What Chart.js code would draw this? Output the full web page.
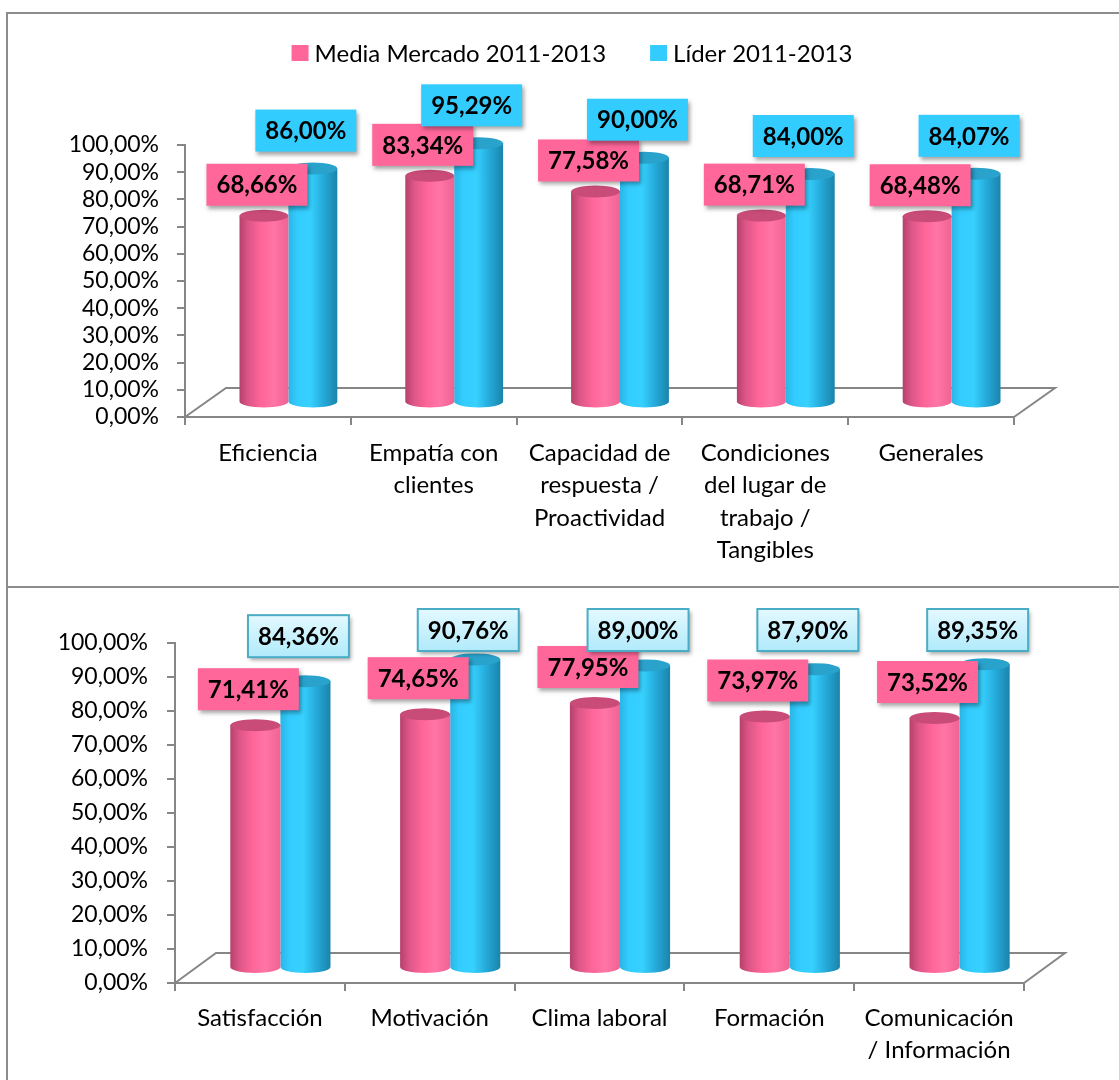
<!DOCTYPE html>
<html>
<head>
<meta charset="utf-8">
<title>Media Mercado / Líder 2011-2013</title>
<script src="https://cdn.jsdelivr.net/npm/chart.js@4"></script>
<style>
  body { margin: 0; background: #fff; }
  .hoja { position: relative; width: 1119px; height: 1080px; overflow: hidden; }
  .hoja canvas { position: absolute; left: 0; }
  .marco { position: absolute; border: 2px solid #8c8c8c; border-right: none; }
</style>
</head>
<body>
<div class="hoja">
  <div class="marco" style="left:6px; top:12px; width:1200px; height:572px;"></div>
  <div class="marco" style="left:6px; top:588px; width:1200px; height:600px; border-top:none;"></div>
  <canvas id="clientes" width="1119" height="587" style="top:0"></canvas>
  <canvas id="empleados" width="1119" height="493" style="top:587px"></canvas>
</div>
<script>
const series = ['Media Mercado 2011-2013', 'Líder 2011-2013']

const categoriasClientes = [
  'Eficiencia',
  ['Empatía con', 'clientes'],
  ['Capacidad de', 'respuesta /', 'Proactividad'],
  ['Condiciones', 'del lugar de', 'trabajo /', 'Tangibles'],
  'Generales'
]
const mediaClientes = [68.66, 83.34, 77.58, 68.71, 68.48]
const liderClientes = [86.00, 95.29, 90.00, 84.00, 84.07]

const categoriasEmpleados = [
  'Satisfacción',
  'Motivación',
  'Clima laboral',
  'Formación',
  ['Comunicación', '/ Información']
]
const mediaEmpleados = [71.41, 74.65, 77.95, 73.97, 73.52]
const liderEmpleados = [84.36, 90.76, 89.00, 87.90, 89.35]

const fuente = 'Lato, "Open Sans", sans-serif'
const gris = '#868686'

// degradados de los cilindros (rosa y azul)
const tonos = [
  { cuerpo: ['#b5416b', '#dd5687', '#ff6699', '#ff75a6', '#f06394'], tapa: '#c94b78', etiqueta: '#ff6699' },
  { cuerpo: ['#2ab6e4', '#33ccff', '#36d1ff', '#26acdc', '#1a84aa'], tapa: '#29a2cc', etiqueta: '#33ccff' }
]

function formato(v) {
  return Number(v).toFixed(2).replace('.', ',') + '%'
}

function cilindro(ctx, izq, der, arriba, base, ry, tono) {
  const cx = (izq + der) / 2
  const rx = (der - izq) / 2
  const g = ctx.createLinearGradient(izq, 0, der, 0)
  const stops = [0, 0.18, 0.45, 0.7, 1]
  tono.cuerpo.forEach((c, i) => g.addColorStop(stops[i], c))
  ctx.beginPath()
  ctx.moveTo(izq, arriba)
  ctx.lineTo(izq, base)
  ctx.ellipse(cx, base, rx, ry, 0, Math.PI, 0, true)
  ctx.lineTo(der, arriba)
  ctx.closePath()
  ctx.fillStyle = g
  ctx.fill()
  ctx.beginPath()
  ctx.ellipse(cx, arriba, rx, ry, 0, 0, Math.PI * 2)
  ctx.fillStyle = tono.tapa
  ctx.fill()
}

function etiqueta(ctx, texto, cx, cy, relleno, borde) {
  ctx.font = `bold 24px ${fuente}`
  const w = ctx.measureText(texto).width + 20
  const h = 42
  const x = cx - w / 2
  const y = cy - h / 2
  ctx.save()
  ctx.shadowColor = 'rgba(0,0,0,0.35)'
  ctx.shadowOffsetX = 2
  ctx.shadowOffsetY = 3
  ctx.shadowBlur = 4
  if (borde) {
    const g = ctx.createLinearGradient(0, y, 0, y + h)
    g.addColorStop(0, '#e4f9ff')
    g.addColorStop(1, '#b0eafb')
    ctx.fillStyle = g
  } else {
    ctx.fillStyle = relleno
  }
  ctx.fillRect(x, y, w, h)
  ctx.restore()
  if (borde) {
    ctx.strokeStyle = borde
    ctx.lineWidth = 2
    ctx.strokeRect(x, y, w, h)
  }
  ctx.fillStyle = '#000'
  ctx.textAlign = 'center'
  ctx.textBaseline = 'middle'
  ctx.fillText(texto, cx, cy + 1)
}

function leyenda(ctx, datasets, centro, y) {
  ctx.font = `24px ${fuente}`
  const anchos = datasets.map(d => ctx.measureText(d.label).width)
  const total = anchos.reduce((a, b) => a + b, 0) + 2 * 23 + 44
  let x = centro - total / 2
  ctx.textAlign = 'left'
  ctx.textBaseline = 'middle'
  datasets.forEach((d, i) => {
    ctx.fillStyle = tonos[i].etiqueta
    ctx.fillRect(x, y - 8, 17, 16)
    ctx.fillStyle = '#000'
    ctx.fillText(d.label, x + 23, y + 1)
    x += 23 + anchos[i] + 44
  })
}

function pluginCilindros(cfg) {
  return {
    id: 'cilindros',
    beforeDatasetsDraw(chart) {
      const ctx = chart.ctx
      const { left, right, bottom } = chart.chartArea
      const sx = cfg.dx / 2
      const sy = cfg.dy / 2

      // suelo 3D
      ctx.save()
      ctx.strokeStyle = gris
      ctx.lineWidth = 2
      ctx.beginPath()
      ctx.moveTo(left, bottom)
      ctx.lineTo(left + cfg.dx, bottom + cfg.dy)
      ctx.lineTo(right + cfg.dx, bottom + cfg.dy)
      ctx.lineTo(right, bottom)
      ctx.stroke()

      const metas = [chart.getDatasetMeta(0), chart.getDatasetMeta(1)]
      metas[0].data.forEach((_, i) => {
        for (const d of [1, 0]) {
          const el = metas[d].data[i]
          cilindro(ctx, el.x - el.width / 2 + sx, el.x + el.width / 2 + sx,
            el.y + sy, el.base + sy, 6, tonos[d])
        }
      })

      metas.forEach((meta, d) => {
        meta.data.forEach((el, i) => {
          const valor = chart.data.datasets[d].data[i]
          const cy = Math.max(el.y + sy - cfg.subida[d], cfg.minY)
          const borde = d === 1 ? cfg.bordeAzul : null
          etiqueta(ctx, formato(valor), el.x + sx - 7, cy, tonos[d].etiqueta, borde)
        })
      })

      if (cfg.leyenda) leyenda(ctx, chart.data.datasets, 572, 53)
      ctx.restore()
      return false
    }
  }
}

function crearGrafico(id, etiquetas, media, lider, cfg) {
  return new Chart(document.getElementById(id), {
    type: 'bar',
    data: {
      labels: etiquetas,
      datasets: [
        { label: series[0], data: media, backgroundColor: tonos[0].etiqueta },
        { label: series[1], data: lider, backgroundColor: tonos[1].etiqueta }
      ]
    },
    options: {
      responsive: false,
      animation: false,
      devicePixelRatio: 1,
      layout: { padding: { top: cfg.arriba, right: cfg.derecha, left: 0, bottom: 0 } },
      datasets: { bar: { categoryPercentage: 0.59, barPercentage: 1 } },
      plugins: { legend: { display: false }, tooltip: { enabled: false } },
      scales: {
        x: {
          grid: { offset: true, drawOnChartArea: false, tickLength: 8, color: gris, lineWidth: 2 },
          border: { color: gris, width: 2 },
          ticks: {
            color: '#000',
            autoSkip: false,
            maxRotation: 0,
            padding: cfg.xPad,
            font: { family: fuente, size: 24, lineHeight: 1.35 }
          },
          afterFit: s => { s.height = cfg.xAlto }
        },
        y: {
          min: 0,
          max: 100,
          grid: { drawOnChartArea: false, tickLength: 8, color: gris, lineWidth: 2 },
          border: { color: gris, width: 2 },
          ticks: {
            stepSize: 10,
            autoSkip: false,
            color: '#000',
            padding: cfg.yPad,
            font: { family: fuente, size: 23 },
            callback: v => formato(v)
          },
          afterFit: s => { s.width = cfg.yAncho }
        }
      }
    },
    plugins: [pluginCilindros(cfg)]
  })
}

crearGrafico('clientes', categoriasClientes, mediaClientes, liderClientes, {
  arriba: 145, derecha: 105, xAlto: 170, yAncho: 185, xPad: 12, yPad: 18,
  dx: 41, dy: -29, subida: [31, 38], minY: 0, bordeAzul: null, leyenda: true
})

crearGrafico('empleados', categoriasEmpleados, mediaEmpleados, liderEmpleados, {
  arriba: 56, derecha: 95, xAlto: 97, yAncho: 175, xPad: 11, yPad: 19,
  dx: 41, dy: -30, subida: [36, 45], minY: 43, bordeAzul: '#4bacc6', leyenda: false
})
</script>
</body>
</html>
